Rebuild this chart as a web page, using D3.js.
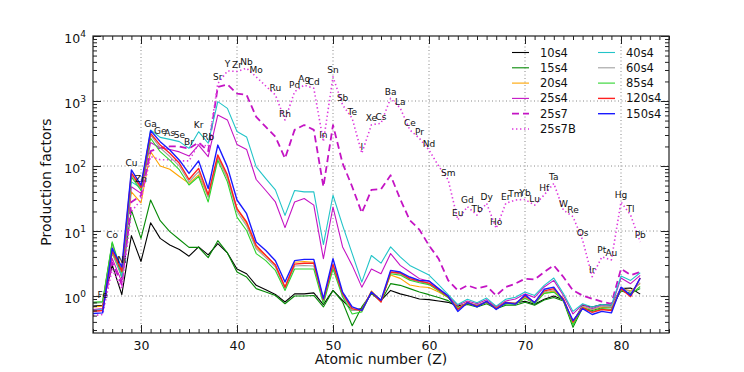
<!DOCTYPE html>
<html>
<head>
<meta charset="utf-8">
<script src="https://cdn.jsdelivr.net/npm/d3@7"></script>
<style>
    body { margin: 0; background: #fff; }
    text { font-family: "DejaVu Sans", sans-serif; fill: #111; }
</style>
</head>
<body>
<svg width="744" height="372"></svg>
<script>
// atomic numbers and symbols (Tc, Pm and Mn carry no label)
const zs = [25, 26, 27, 28, 29, 30, 31, 32, 33, 34, 35, 36, 37, 38, 39, 40, 41, 42, 43, 44, 45, 46, 47, 48, 49, 50, 51, 52, 53, 54,
    55, 56, 57, 58, 59, 60, 61, 62, 63, 64, 65, 66, 67, 68, 69, 70, 71, 72, 73, 74, 75, 76, 77, 78, 79, 80, 81, 82];
const symbols = ['', 'Fe', 'Co', 'Ni', 'Cu', 'Zn', 'Ga', 'Ge', 'As', 'Se', 'Br', 'Kr', 'Rb', 'Sr', 'Y', 'Zr', 'Nb', 'Mo', '', 'Ru',
    'Rh', 'Pd', 'Ag', 'Cd', 'In', 'Sn', 'Sb', 'Te', 'I', 'Xe', 'Cs', 'Ba', 'La', 'Ce', 'Pr', 'Nd', '', 'Sm', 'Eu', 'Gd',
    'Tb', 'Dy', 'Ho', 'Er', 'Tm', 'Yb', 'Lu', 'Hf', 'Ta', 'W', 'Re', 'Os', 'Ir', 'Pt', 'Au', 'Hg', 'Tl', 'Pb'];

// production factors, one value per Z above
const m10s4 = [0.7, 0.72, 3.0, 1.05, 8.5, 3.4, 13.4, 7.7, 6.1, 5.2, 4.1, 5.7, 4.3, 6.4, 4.6, 2.6, 2.2, 1.46, 1.25, 1.06,
    0.81, 1.08, 1.08, 1.12, 0.74, 1.22, 0.86, 0.6, 0.64, 1.11, 0.86, 1.22, 1.08, 0.99, 0.9, 0.88, 0.84, 0.8, 0.7, 0.76,
    0.72, 0.8, 0.68, 0.76, 0.78, 0.83, 0.75, 0.89, 1.0, 0.88, 0.4, 0.72, 0.68, 0.74, 0.72, 1.3, 1.33, 1.07];
const m15s4 = [0.78, 0.8, 6.5, 1.9, 21, 7.7, 30, 14.4, 9.8, 7.4, 5.6, 5.6, 3.9, 7.1, 4.6, 2.34, 1.96, 1.3, 1.15, 1.02,
    0.76, 1.0, 1.0, 1.02, 0.68, 1.22, 0.81, 0.35, 0.68, 1.09, 0.83, 1.55, 1.46, 1.3, 1.15, 1.05, 0.95, 0.85, 0.68, 0.74,
    0.68, 0.76, 0.64, 0.72, 0.72, 0.8, 0.72, 0.87, 0.95, 0.84, 0.33, 0.66, 0.6, 0.66, 0.66, 1.2, 1.1, 1.3];
const m20s4 = [0.68, 0.7, 4.5, 2.0, 40, 27, 166, 100, 89, 69, 54, 73, 34, 139, 65, 22, 13, 5.5, 4.2, 3.0,
    1.35, 3.3, 3.4, 3.3, 0.85, 3.0, 1.1, 0.6, 0.62, 1.2, 0.85, 2.1, 1.87, 1.48, 1.39, 1.35, 1.15, 0.95, 0.66, 0.78,
    0.7, 0.8, 0.66, 0.78, 0.76, 0.95, 0.8, 1.1, 1.2, 0.85, 0.38, 0.68, 0.62, 0.68, 0.68, 1.3, 1.2, 1.55];
const m25s4 = [0.62, 0.64, 3.8, 1.65, 48, 38, 230, 190, 180, 165, 142, 210, 139, 610, 512, 215, 180, 62, 42, 28,
    11.3, 28, 31.6, 25, 3.75, 23.4, 5.7, 2.96, 1.37, 2.6, 2.2, 4.5, 2.96, 2.34, 1.85, 1.7, 1.3, 1.0, 0.72, 0.84,
    0.76, 0.88, 0.68, 0.84, 0.9, 1.08, 0.95, 1.38, 1.74, 1.02, 0.53, 0.74, 0.64, 0.72, 0.68, 1.89, 1.55, 2.08];
const m25s7 = [0.6, 0.6, 3.3, 1.5, 28, 35, 170, 190, 200, 200, 185, 230, 170, 1650, 1800, 1300, 1240, 570, 400, 282,
    131, 360, 427, 360, 48, 427, 110, 48, 19, 43, 44, 72, 31, 14.7, 10.5, 6.0, 3.75, 1.74, 1.22, 1.46,
    1.3, 1.42, 1.02, 1.38, 1.55, 1.85, 1.8, 2.34, 2.96, 1.96, 1.22, 1.02, 0.91, 0.82, 0.76, 2.63, 2.1, 2.34];
const m25s7B = [0.5, 0.52, 2.6, 1.3, 20, 30, 140, 125, 125, 120, 120, 220, 200, 1850, 2900, 2850, 3200, 2350, 1700, 1240,
    510, 1390, 1760, 1570, 237, 2350, 870, 540, 157, 430, 455, 1100, 780, 360, 267, 176, 100, 61, 14.8, 23.7,
    17.6, 26.7, 11, 26.7, 30, 30.6, 25, 36, 54, 21, 16.6, 7.3, 1.98, 4.0, 3.6, 28, 17.6, 6.8];
const m40s4 = [0.6, 0.62, 4.8, 2.0, 57, 46, 358, 276, 257, 237, 187, 337, 224, 977, 770, 340, 280, 97, 64, 43,
    17.4, 42, 40, 40, 6.2, 35.5, 12.2, 4.5, 1.64, 4.2, 3.2, 5.7, 4.0, 2.96, 2.5, 2.1, 1.5, 1.05, 0.74, 0.89,
    0.79, 0.93, 0.7, 0.89, 0.96, 1.15, 1.02, 1.46, 1.89, 1.09, 0.58, 0.76, 0.68, 0.74, 0.72, 2.03, 1.74, 2.28];
const m60s4 = [0.8, 0.8, 6.0, 2.5, 72, 45, 300, 190, 140, 100, 57, 82, 33, 135, 65, 20, 12, 5.3, 3.9, 2.8,
    1.3, 2.9, 2.95, 2.9, 0.82, 2.85, 1.03, 0.6, 0.6, 1.15, 0.82, 2.3, 2.2, 1.8, 1.65, 1.55, 1.22, 0.96, 0.65, 0.8,
    0.72, 0.82, 0.66, 0.8, 0.78, 0.97, 0.8, 1.15, 1.25, 0.9, 0.4, 0.7, 0.62, 0.7, 0.68, 1.35, 1.15, 1.6];
const m85s4 = [0.8, 0.82, 6.8, 2.3, 68, 42, 267, 166, 123, 87, 51, 69, 28, 123, 57, 16.4, 10.2, 4.5, 3.5, 2.48,
    1.22, 2.6, 2.6, 2.6, 0.76, 2.6, 0.97, 0.53, 0.57, 1.15, 0.82, 2.2, 2.1, 1.75, 1.6, 1.5, 1.2, 0.95, 0.64, 0.78,
    0.7, 0.8, 0.64, 0.76, 0.74, 0.92, 0.76, 1.1, 1.15, 0.86, 0.36, 0.66, 0.58, 0.64, 0.62, 1.25, 1.05, 1.4];
const m120s4 = [0.58, 0.6, 5.0, 2.4, 78, 47, 318, 210, 157, 110, 62, 92, 36, 148, 73, 22, 13.8, 6.0, 4.2, 3.0,
    1.37, 3.1, 3.2, 3.2, 0.88, 3.07, 1.09, 0.64, 0.6, 1.15, 0.81, 2.34, 2.26, 1.85, 1.7, 1.58, 1.25, 0.98, 0.62, 0.8,
    0.7, 0.82, 0.64, 0.8, 0.76, 1.0, 0.8, 1.2, 1.3, 0.9, 0.4, 0.66, 0.56, 0.62, 0.6, 1.3, 0.98, 1.9];
const m150s4 = [0.54, 0.55, 5.4, 2.8, 87, 51, 350, 237, 176, 123, 77, 120, 45, 210, 97, 30, 18.5, 6.8, 5.0, 3.5,
    1.64, 3.5, 3.66, 3.66, 0.91, 3.75, 1.15, 0.68, 0.6, 1.15, 0.86, 2.48, 2.34, 1.96, 1.74, 1.7, 1.3, 1.0, 0.58, 0.79,
    0.68, 0.83, 0.62, 0.79, 0.75, 1.05, 0.79, 1.27, 1.37, 0.86, 0.42, 0.64, 0.52, 0.58, 0.55, 1.37, 1.02, 1.89];

const xTicks = [30, 40, 50, 60, 70, 80];
const yTicks = [1e0, 1e1, 1e2, 1e3, 1e4];

const series = [
    { name: '10s4', values: m10s4, color: '#000000', width: 1.1, dash: null },
    { name: '15s4', values: m15s4, color: '#078a07', width: 1.1, dash: null },
    { name: '20s4', values: m20s4, color: '#ffa500', width: 1.1, dash: null },
    { name: '25s4', values: m25s4, color: '#c414c4', width: 1.1, dash: null },
    { name: '25s7', values: m25s7, color: '#c414c4', width: 1.8, dash: '7,4' },
    { name: '25s7B', values: m25s7B, color: '#de3ade', width: 1.6, dash: '1.4,2.6' },
    { name: '40s4', values: m40s4, color: '#22c4c8', width: 1.1, dash: null },
    { name: '60s4', values: m60s4, color: '#a0a0a0', width: 1.1, dash: null },
    { name: '85s4', values: m85s4, color: '#2ed42e', width: 1.1, dash: null },
    { name: '120s4', values: m120s4, color: '#ff2020', width: 1.4, dash: null },
    { name: '150s4', values: m150s4, color: '#1a1aff', width: 1.4, dash: null }
];

const pLeft = 93, pRight = 669, pTop = 36, pBottom = 333;
const x = d3.scaleLinear().domain([25, 85]).range([pLeft, pRight]);
const y = d3.scaleLog().domain([0.27, 1e4]).range([pBottom, pTop]);
const svg = d3.select('svg');

svg.append('clipPath').attr('id', 'clip')
    .append('rect').attr('x', pLeft).attr('y', pTop).attr('width', pRight - pLeft).attr('height', pBottom - pTop);

// grid
const grid = svg.append('g').attr('stroke', '#7a7a7a').attr('stroke-width', 0.9).attr('stroke-dasharray', '1,2.5');
grid.selectAll('.gx').data(xTicks).enter().append('line')
    .attr('x1', d => x(d)).attr('x2', d => x(d)).attr('y1', pTop).attr('y2', pBottom);
grid.selectAll('.gy').data(yTicks.slice(0, 4)).enter().append('line')
    .attr('y1', d => y(d)).attr('y2', d => y(d)).attr('x1', pLeft).attr('x2', pRight);

// lines
const line = d3.line().x((d, i) => x(zs[i])).y(d => y(d));
const plot = svg.append('g').attr('clip-path', 'url(#clip)');
series.forEach(s => {
    plot.append('path').datum(s.values)
        .attr('d', line)
        .attr('fill', 'none')
        .attr('stroke', s.color)
        .attr('stroke-width', s.width)
        .attr('stroke-dasharray', s.dash)
        .attr('stroke-linejoin', 'round');
});

// element labels over the highest point
svg.append('g').selectAll('text').data(zs).enter().append('text')
    .attr('x', d => x(d))
    .attr('y', (d, i) => y(d3.max(series, s => s.values[i])) - 3.5)
    .attr('text-anchor', 'middle')
    .attr('font-size', 9)
    .text((d, i) => symbols[i]);

// axes with inward ticks
const minorX = d3.range(25, 86).filter(v => v % 10 !== 0);
const minorY = [];
[-1, 0, 1, 2, 3].forEach(e => d3.range(2, 10).forEach(k => {
    const v = k * Math.pow(10, e);
    if (v > 0.27 && v < 1e4) minorY.push(v);
}));

function axes(g) { g.select('.domain').remove(); g.selectAll('line').attr('stroke', '#222'); }

svg.append('g').attr('transform', 'translate(0,' + pBottom + ')')
    .call(d3.axisBottom(x).tickValues(xTicks).tickSize(-8).tickPadding(8))
    .call(axes)
    .selectAll('text').attr('font-size', 12.5).attr('fill', '#111').style('font-family', 'DejaVu Sans');
svg.append('g').attr('transform', 'translate(0,' + pBottom + ')')
    .call(d3.axisBottom(x).tickValues(minorX).tickSize(-4).tickFormat('')).call(axes);
svg.append('g').attr('transform', 'translate(0,' + pTop + ')')
    .call(d3.axisTop(x).tickValues(xTicks).tickSize(-8).tickFormat('')).call(axes);
svg.append('g').attr('transform', 'translate(0,' + pTop + ')')
    .call(d3.axisTop(x).tickValues(minorX).tickSize(-4).tickFormat('')).call(axes);
svg.append('g').attr('transform', 'translate(' + pLeft + ',0)')
    .call(d3.axisLeft(y).tickValues(yTicks).tickSize(-8).tickFormat('')).call(axes);
svg.append('g').attr('transform', 'translate(' + pLeft + ',0)')
    .call(d3.axisLeft(y).tickValues(minorY).tickSize(-4).tickFormat('')).call(axes);
svg.append('g').attr('transform', 'translate(' + pRight + ',0)')
    .call(d3.axisRight(y).tickValues(yTicks).tickSize(-8).tickFormat('')).call(axes);
svg.append('g').attr('transform', 'translate(' + pRight + ',0)')
    .call(d3.axisRight(y).tickValues(minorY).tickSize(-4).tickFormat('')).call(axes);

// y tick labels 10^n
const yl = svg.append('g').selectAll('text').data(yTicks).enter().append('text')
    .attr('x', 86).attr('y', d => y(d) + 7).attr('text-anchor', 'end').attr('font-size', 12.5);
yl.append('tspan').text('10');
yl.append('tspan').attr('dy', -6).attr('font-size', 9).text(d => Math.round(Math.log10(d)));

svg.append('rect').attr('x', pLeft).attr('y', pTop).attr('width', pRight - pLeft).attr('height', pBottom - pTop)
    .attr('fill', 'none').attr('stroke', '#222').attr('stroke-width', 1.2);

// axis titles
svg.append('text').attr('x', (pLeft + pRight) / 2).attr('y', 364).attr('text-anchor', 'middle')
    .attr('font-size', 14).text('Atomic number (Z)');
svg.append('text').attr('transform', 'translate(51,' + 182 + ') rotate(-90)').attr('text-anchor', 'middle')
    .attr('font-size', 14).text('Production factors');

// legend
const legend = svg.append('g');
series.forEach((s, i) => {
    const col = i < 6 ? 0 : 1;
    const row = i < 6 ? i : i - 6;
    const lx = col === 0 ? 512 : 598;
    const ly = 52.5 + row * 15.3;
    legend.append('line').attr('x1', lx).attr('x2', lx + 17).attr('y1', ly).attr('y2', ly)
        .attr('stroke', s.color).attr('stroke-width', s.width).attr('stroke-dasharray', s.dash);
    legend.append('text').attr('x', lx + 28).attr('y', ly + 4).attr('font-size', 11.5).text(s.name);
});
</script>
</body>
</html>
